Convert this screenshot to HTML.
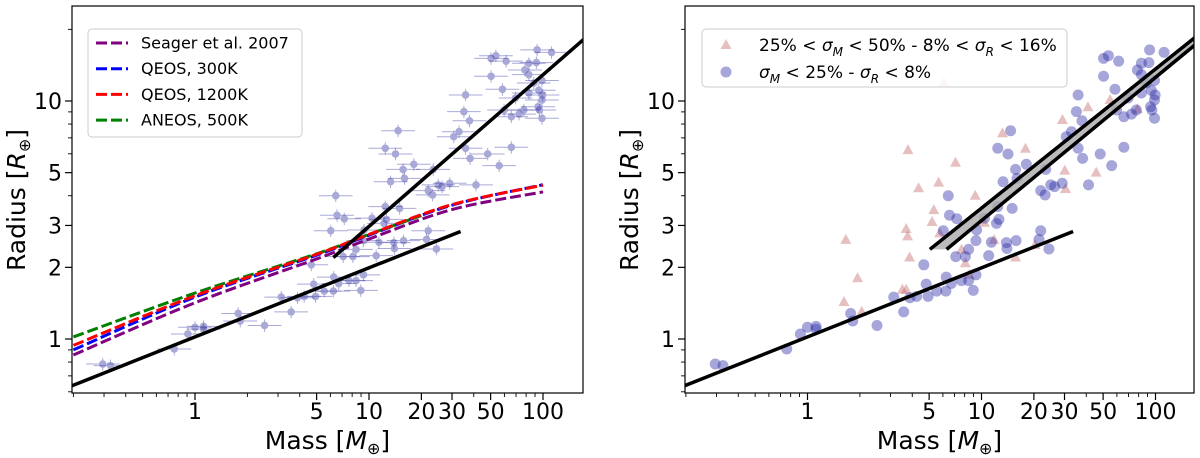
<!DOCTYPE html>
<html><head><meta charset="utf-8">
<style>
body{margin:0;background:#fff;}
svg{display:block;font-family:"DejaVu Sans","Liberation Sans",sans-serif;}
</style></head>
<body>
<svg id="fig" width="1200" height="458" viewBox="0 0 1200 458" xmlns="http://www.w3.org/2000/svg">
<defs>
<clipPath id="clipL"><rect x="72" y="6" width="511" height="387"/></clipPath>
<clipPath id="clipR"><rect x="685" y="6" width="509" height="387"/></clipPath>
</defs>
<g id="panelL"></g>
<g id="panelR"></g>
</svg>
<script>
// ---- data ----
const xTickVals = [1,5,10,20,30,50,100];
const xTickLabels = ["1","5","10","20","30","50","100"];
const yTickVals = [1,2,3,5,10];
const yTickLabels = ["1","2","3","5","10"];
const blueMass = [0.295,0.327,0.76,0.91,1.0,1.12,1.12,1.77,1.82,2.51,3.13,3.57,3.88,4.24,4.66,4.81,4.93,5.53,6.24,6.44,6.55,7.21,6.03,6.27,6.7,7.11,8.08,8.43,9.29,8.97,9.29,7.67,8.43,
50.3,53.6,61.4,92.5,112,50.3,83,78.7,91.6,83,88.5,98.7,94.6,99.5,98.7,93.7,95.3,98.7,83,77.6,72.8,65.8,59.8,58.5,69.6,35.9,35.1,37.8,32.9,30.7,35.9,38.1,48.1,56,65.8,41.2,29.1,26.3,25,21.9,23.2,23.4,18.1,15.7,16,14.7,12.4,14.2,13.3,15,12.4,12.2,12.6,10.4,9.37,11.4,13.9,14,15.8,21.9,21.4,24.4,11];
const blueRadius = [0.785,0.773,0.908,1.05,1.12,1.13,1.10,1.28,1.19,1.14,1.50,1.30,1.49,1.51,2.05,1.70,1.51,1.59,1.59,4.0,3.31,3.20,2.85,1.82,1.71,2.22,2.22,2.38,2.59,1.60,1.86,1.76,1.76,
15.1,15.5,14.7,16.4,16.0,12.7,14.4,13.5,14.5,12.9,11.9,12.2,11.1,10.6,10.1,9.46,9.17,8.46,10.8,9.17,8.81,8.59,9.17,11.2,10.3,10.6,9.02,8.26,7.43,7.08,6.33,5.74,5.99,5.35,6.39,4.44,4.51,4.37,4.44,4.2,4.03,5.16,5.42,5.16,4.73,7.5,6.33,5.99,4.58,3.54,3.6,3.06,3.18,3.22,2.87,2.55,2.54,2.4,2.59,2.85,2.62,2.39,2.24];
const redMass = [3.78,7.09,4.35,5.67,9.2,5.32,5.2,3.69,3.76,5.75,3.86,1.66,1.94,1.62,2.05,3.51,3.69,7.67,8.08,8.51,13.2,17.9,29.2,40.9,54.8,78.7,30.1,30.4,45.6,10.4,11.8,20.3,15.7,6.08];
const redRadius = [6.22,5.5,4.3,4.54,4.0,3.48,3.1,2.9,2.7,2.78,2.2,2.61,1.8,1.43,1.30,1.61,1.61,2.37,2.08,1.86,7.31,6.3,8.32,9.41,10.1,9.23,5.1,4.27,5.0,3.08,2.61,2.48,2.2,11.9];
const curveMass = [0.2,1,5,10,30,100];
const seagerR = [0.857,1.42,2.17,2.63,3.5,4.15];
const qeos300R = [0.90,1.5,2.25,2.73,3.65,4.45];
const qeos1200R = [0.94,1.52,2.27,2.75,3.67,4.43];
const aneosMass = [0.2,1,5,10,20];
const aneosR = [1.02,1.56,2.28,2.75,3.3];
const lowFitMass = [0.19,33.6];
const lowFitR = [0.63,2.83];
const highFitMass = [6.24,175];
const highFitR = [2.2,18.4];
const highFitAMass = [5.05,175];
const highFitAR = [2.38,18.9];
const highFitBMass = [6.3,175];
const highFitBR = [2.38,17.6];

// ---- axes ----
const NS="http://www.w3.org/2000/svg";
const L=Math.log10;
const DEC=174;
function yS(r){return 339-238*L(r);}
function mk(tag,attrs,parent){const e=document.createElementNS(NS,tag);for(const k in attrs)e.setAttribute(k,attrs[k]);parent.appendChild(e);return e;}
function smooth(pts){let d="M"+pts[0][0]+","+pts[0][1];for(let i=0;i<pts.length-1;i++){const p0=pts[Math.max(0,i-1)],p1=pts[i],p2=pts[i+1],p3=pts[Math.min(pts.length-1,i+2)];const c1=[p1[0]+(p2[0]-p0[0])/6,p1[1]+(p2[1]-p0[1])/6],c2=[p2[0]-(p3[0]-p1[0])/6,p2[1]-(p3[1]-p1[1])/6];d+=" C"+c1+" "+c2+" "+p2;}return d;}

function panel(g,x0,left,right,clip,isLeft){
  const xS=m=>x0+DEC*L(m);
  const top=6,bot=393;
  const inner=mk('g',{'clip-path':'url(#'+clip+')'},g);
  const ax=mk('g',{},g);
  
  
  for(let e=-1;e<=2;e++)for(let k=1;k<10;k++){const v=k*Math.pow(10,e);const x=xS(v);if(x<left||x>right)continue;const major=xTickVals.includes(v);
    mk('line',{x1:x,x2:x,y1:bot,y2:bot+(major?7:4),stroke:'#000','stroke-width':major?1.2:0.9},ax);}
  for(let e=-1;e<=1;e++)for(let k=1;k<10;k++){const v=k*Math.pow(10,e);const y=yS(v);if(y<top||y>bot)continue;const major=yTickVals.includes(v);
    mk('line',{x1:left,x2:left-(major?7:4),y1:y,y2:y,stroke:'#000','stroke-width':major?1.2:0.9},ax);}
  xTickVals.forEach((v,i)=>{const t=mk('text',{x:xS(v),y:419,'text-anchor':'middle','font-size':22},ax);t.textContent=xTickLabels[i];
    
    });
  yTickVals.forEach((v,i)=>{const t=mk('text',{x:left-10,y:yS(v)+8,'text-anchor':'end','font-size':22},ax);t.textContent=yTickLabels[i];
    
    });
  const xl=mk('text',{x:(left+right)/2,y:449,'text-anchor':'middle','font-size':25},g);
  xl.innerHTML='Mass [<tspan font-style="italic">M</tspan><tspan font-size="16" dy="5">⊕</tspan><tspan dy="-5">]</tspan>';
  
  
  const yx=left-47;
  const yl=mk('text',{x:0,y:0,'text-anchor':'middle','font-size':25,transform:'translate('+yx+',200) rotate(-90)'},g);
  yl.innerHTML='Radius [<tspan font-style="italic">R</tspan><tspan font-size="16" dy="5">⊕</tspan><tspan dy="-5">]</tspan>';
  
  

  if(isLeft){
    blueMass.forEach((m,i)=>{const x=xS(m),y=yS(blueRadius[i]);
      const pg=mk('g',{opacity:0.4},inner);
      
      
      mk('line',{x1:xS(m*0.8),x2:xS(m*1.25),y1:y,y2:y,stroke:'#2a2aa0','stroke-width':1},pg);
      mk('line',{x1:x,x2:x,y1:yS(blueRadius[i]*0.94),y2:yS(blueRadius[i]*1.06),stroke:'#2a2aa0','stroke-width':1},pg);
      mk('circle',{cx:x,cy:y,r:3.8,fill:'#2a2aa0'},pg);});
    const curves=[[curveMass,seagerR,'#800080','seager-curve'],[curveMass,qeos300R,'#0000ff','qeos-300k-curve'],[curveMass,qeos1200R,'#ff0000','qeos-1200k-curve'],[aneosMass,aneosR,'#008000','aneos-500k-curve']];
    const order=[0,1,3,2];
    order.forEach(j=>{const c=curves[j];const pts=c[0].map((m,i)=>[xS(m),yS(c[1][i])]);
      const p=mk('path',{d:smooth(pts),fill:'none',stroke:c[2],'stroke-width':3,'stroke-dasharray':'11,4'},inner);
      
      });
    const hl=mk('line',{x1:xS(highFitMass[0]),y1:yS(highFitR[0]),x2:xS(highFitMass[1]),y2:yS(highFitR[1]),stroke:'#000','stroke-width':3.5},inner);
    
    
  } else {
    redMass.forEach((m,i)=>{const x=xS(m),y=yS(redRadius[i]);
      const t=mk('path',{d:`M${x},${y-6} L${x+5.5},${y+4} L${x-5.5},${y+4}Z`,fill:'#c46a6a',opacity:0.42},inner);
      
      });
    blueMass.forEach((m,i)=>{const c=mk('circle',{cx:xS(m),cy:yS(blueRadius[i]),r:5.5,fill:'#2a2aa8',opacity:0.42},inner);
      
      });
    const a1=[xS(highFitAMass[0]),yS(highFitAR[0])],a2=[xS(highFitAMass[1]),yS(highFitAR[1])];
    const b1=[xS(highFitBMass[0]),yS(highFitBR[0])],b2=[xS(highFitBMass[1]),yS(highFitBR[1])];
    const band=mk('path',{d:`M${a1} L${a2} L${b2} L${b1}Z`,fill:'#aaaaaa',opacity:0.8},inner);
    
    
    const la=mk('line',{x1:a1[0],y1:a1[1],x2:a2[0],y2:a2[1],stroke:'#000','stroke-width':3.5},inner);
    
    
    const lb=mk('line',{x1:b1[0],y1:b1[1],x2:b2[0],y2:b2[1],stroke:'#000','stroke-width':3.5},inner);
    
    
  }
  const ll=mk('line',{x1:xS(lowFitMass[0]),y1:yS(lowFitR[0]),x2:xS(lowFitMass[1]),y2:yS(lowFitR[1]),stroke:'#000','stroke-width':3.5},inner);
  
  
  mk('rect',{x:left,y:top,width:right-left,height:bot-top,fill:'none',stroke:'#000','stroke-width':1.2},g);
  return xS;
}
const gL=document.getElementById('panelL'),gR=document.getElementById('panelR');
panel(gL,195,72,583,'clipL',true);
panel(gR,807.5,685,1194,'clipR',false);

// legends
const lg=mk('g',{},gL);


mk('rect',{x:88,y:29,width:214,height:108,rx:4,fill:'#fff','fill-opacity':0.85,stroke:'#ccc'},lg);
[['Seager et al. 2007','#800080'],['QEOS, 300K','#0000ff'],['QEOS, 1200K','#ff0000'],['ANEOS, 500K','#008000']].forEach((e,i)=>{
  const y=43+i*25.7;
  const en=mk('g',{},lg);
  
  
  mk('line',{x1:96,x2:128,y1:y,y2:y,stroke:e[1],'stroke-width':3,'stroke-dasharray':'11,4'},en);
  const t=mk('text',{x:141,y:y+5.5,'font-size':16},en);t.textContent=e[0];});
const rg=mk('g',{},gR);


mk('rect',{x:702,y:29,width:365,height:58,rx:4,fill:'#fff','fill-opacity':0.85,stroke:'#ccc'},rg);
const e1=mk('g',{},rg);


mk('path',{d:'M726,39 L731.5,49 L720.5,49Z',fill:'#c46a6a',opacity:0.42},e1);
const t1=mk('text',{x:759,y:51,'font-size':17},e1);
t1.innerHTML='25% &lt; <tspan font-style="italic">σ</tspan><tspan font-size="12" dy="5" font-style="italic">M</tspan><tspan dy="-5"> &lt; 50% - 8% &lt; </tspan><tspan font-style="italic">σ</tspan><tspan font-size="12" dy="5" font-style="italic">R</tspan><tspan dy="-5"> &lt; 16%</tspan>';
const e2=mk('g',{},rg);


mk('circle',{cx:726,cy:72,r:5.5,fill:'#2a2aa8',opacity:0.42},e2);
const t2=mk('text',{x:759,y:78,'font-size':17},e2);
t2.innerHTML='<tspan font-style="italic">σ</tspan><tspan font-size="12" dy="5" font-style="italic">M</tspan><tspan dy="-5"> &lt; 25% - </tspan><tspan font-style="italic">σ</tspan><tspan font-size="12" dy="5" font-style="italic">R</tspan><tspan dy="-5"> &lt; 8%</tspan>';
</script>
</body></html>
